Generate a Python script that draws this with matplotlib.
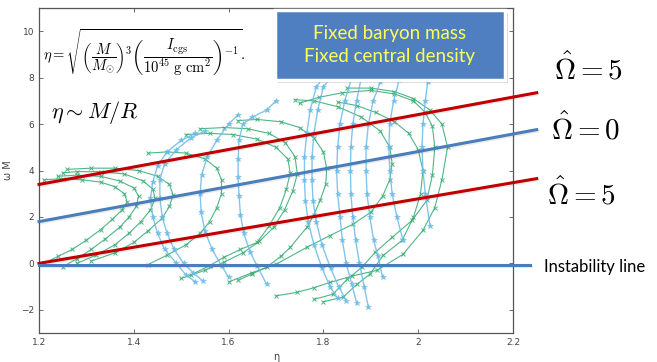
import numpy as np
import matplotlib.pyplot as plt
import matplotlib.patheffects as pe
from matplotlib.patches import Rectangle

plt.rcParams['mathtext.fontset'] = 'cm'

# fixed baryon mass sequences (eta, omega*M)
green_eta = [
    [1.21, 1.24, 1.27, 1.30, 1.33, 1.355, 1.375, 1.386, 1.38, 1.36, 1.33, 1.29, 1.25, 1.21],
    [1.25, 1.28, 1.31, 1.34, 1.37, 1.39, 1.405, 1.41, 1.40, 1.37, 1.33, 1.28, 1.24],
    [1.28, 1.32, 1.36, 1.39, 1.415, 1.435, 1.445, 1.44, 1.42, 1.38, 1.33, 1.28, 1.25],
    [1.31, 1.36, 1.40, 1.43, 1.46, 1.475, 1.483, 1.475, 1.45, 1.41, 1.36, 1.31, 1.26],
    [1.43, 1.47, 1.51, 1.54, 1.56, 1.575, 1.585, 1.585, 1.575, 1.55, 1.51, 1.47, 1.43],
    [1.52, 1.56, 1.59, 1.625, 1.66, 1.685, 1.708, 1.722, 1.73, 1.725, 1.70, 1.66, 1.61, 1.56, 1.51],
    [1.50, 1.55, 1.59, 1.63, 1.665, 1.695, 1.718, 1.735, 1.745, 1.74, 1.72, 1.685, 1.64, 1.59, 1.54],
    [1.62, 1.65, 1.68, 1.71, 1.73, 1.765, 1.78, 1.793, 1.805, 1.807, 1.80, 1.78, 1.75, 1.71, 1.66, 1.62],
    [1.60, 1.65, 1.70, 1.765, 1.814, 1.862, 1.90, 1.925, 1.94, 1.945, 1.94, 1.92, 1.88, 1.83, 1.78, 1.74],
    [1.78, 1.82, 1.85, 1.881, 1.909, 1.945, 1.987, 2.018, 2.03, 2.035, 2.03, 2.015, 1.99, 1.95, 1.90, 1.84, 1.79, 1.75],
    [1.70, 1.744, 1.78, 1.814, 1.86, 1.913, 1.968, 2.01, 2.035, 2.05, 2.062, 2.05, 2.025, 1.99, 1.95, 1.90, 1.85],
    [1.80, 1.841, 1.871, 1.898, 1.926, 1.966, 1.99, 2.005, 2.01, 2.0, 1.98, 1.95, 1.91, 1.87, 1.83],
]
green_wm = [
    [0.0, 0.3, 0.6, 1.0, 1.45, 1.9, 2.3, 2.65, 3.0, 3.3, 3.5, 3.6, 3.65, 3.6],
    [-0.15, 0.2, 0.6, 1.05, 1.55, 2.0, 2.45, 2.9, 3.25, 3.55, 3.75, 3.8, 3.75],
    [0.0, 0.35, 0.8, 1.3, 1.8, 2.3, 2.8, 3.2, 3.55, 3.85, 3.95, 3.95, 3.9],
    [0.1, 0.45, 0.9, 1.4, 1.95, 2.45, 2.95, 3.4, 3.75, 4.0, 4.1, 4.1, 4.05],
    [-0.05, 0.35, 0.8, 1.3, 1.8, 2.4, 3.0, 3.6, 4.1, 4.5, 4.75, 4.8, 4.75],
    [-0.5, -0.1, 0.26, 0.6, 0.9, 1.6, 2.4, 3.2, 3.9, 4.5, 5.0, 5.35, 5.55, 5.6, 5.55],
    [-0.65, -0.3, 0.05, 0.45, 0.95, 1.55, 2.3, 3.1, 3.85, 4.6, 5.2, 5.6, 5.8, 5.85, 5.8],
    [-0.73, -0.45, -0.17, 0.3, 0.69, 1.55, 2.1, 2.71, 3.4, 4.1, 4.8, 5.4, 5.85, 6.1, 6.2, 6.15],
    [-0.8, -0.4, -0.04, 0.69, 1.2, 1.68, 2.2, 2.9, 3.6, 4.3, 5.0, 5.7, 6.3, 6.75, 7.0, 7.05],
    [-1.55, -1.33, -0.69, -0.17, 0.47, 1.12, 1.85, 2.71, 3.8, 5.0, 5.9, 6.5, 7.0, 7.3, 7.45, 7.35, 7.15, 6.9],
    [-1.4, -1.25, -1.05, -0.82, -0.55, -0.3, 0.39, 1.42, 2.4, 3.6, 5.0, 6.0, 6.6, 7.1, 7.4, 7.55, 7.55],
    [-1.65, -1.46, -0.9, -0.47, 0.34, 0.99, 1.98, 3.0, 4.0, 4.9, 5.6, 6.1, 6.5, 6.8, 6.95],
]

# fixed central density sequences
blue_eta = [
    [1.53, 1.50, 1.47, 1.45, 1.44, 1.435, 1.44, 1.45, 1.465, 1.49, 1.51, 1.53],
    [1.55, 1.52, 1.49, 1.465, 1.455, 1.455, 1.46, 1.47, 1.485, 1.505, 1.525, 1.545],
    [1.62, 1.60, 1.575, 1.555, 1.543, 1.54, 1.542, 1.55, 1.565, 1.585, 1.60],
    [1.70, 1.68, 1.65, 1.63, 1.622, 1.62, 1.62, 1.622, 1.625, 1.632, 1.645, 1.66, 1.68],
    [1.80, 1.785, 1.772, 1.765, 1.76, 1.76, 1.762, 1.768, 1.78, 1.797, 1.814, 1.83],
    [1.815, 1.80, 1.788, 1.78, 1.776, 1.776, 1.778, 1.785, 1.797, 1.815, 1.832, 1.848],
    [1.86, 1.845, 1.835, 1.83, 1.828, 1.83, 1.835, 1.84, 1.848, 1.86, 1.87],
    [1.88, 1.87, 1.862, 1.858, 1.857, 1.858, 1.862, 1.868, 1.876, 1.886, 1.895],
    [1.92, 1.905, 1.895, 1.89, 1.89, 1.892, 1.898, 1.906, 1.915, 1.925],
    [1.96, 1.948, 1.94, 1.938, 1.94, 1.945, 1.955, 1.968],
    [2.02, 2.015, 2.01, 2.008, 2.01, 2.015, 2.025],
]
blue_wm = [
    [5.6, 5.3, 4.8, 4.2, 3.5, 2.8, 2.0, 1.3, 0.6, 0.0, -0.5, -0.8],
    [5.7, 5.4, 4.9, 4.3, 3.6, 2.8, 2.0, 1.3, 0.6, 0.0, -0.4, -0.75],
    [6.4, 6.0, 5.3, 4.6, 3.8, 3.0, 2.2, 1.4, 0.6, -0.1, -0.6],
    [7.0, 6.6, 6.3, 6.0, 5.3, 4.5, 3.7, 2.9, 2.1, 1.3, 0.5, -0.1, -0.9],
    [8.0, 7.6, 6.6, 5.6, 4.6, 3.6, 2.7, 1.8, 0.8, -0.2, -1.0, -1.5],
    [8.0, 7.6, 6.6, 5.6, 4.6, 3.6, 2.7, 1.8, 0.8, -0.2, -1.0, -1.6],
    [8.0, 7.0, 6.0, 5.0, 4.0, 3.0, 2.0, 1.0, 0.0, -0.9, -1.7],
    [8.0, 7.0, 6.0, 5.0, 4.0, 3.0, 2.0, 1.0, 0.0, -1.0, -1.9],
    [7.8, 7.0, 6.0, 5.0, 4.0, 3.0, 2.0, 1.0, 0.3, -0.6],
    [7.9, 7.0, 6.0, 5.0, 4.0, 3.0, 2.0, 1.0],
    [7.8, 7.0, 6.0, 5.0, 4.0, 3.0, 1.6],
]

# straight guide lines: end points
line_eta = [1.2, 2.25]
omega5_upper = [3.4, 7.35]
omega0 = [1.8, 5.76]
omega5_lower = [0.0, 3.65]
instab_eta = [1.2, 2.236]
instab_wm = [-0.05, -0.05]

fig = plt.figure(figsize=(6.57, 3.62), dpi=100)
ax = fig.add_axes([0.0594, 0.0801, 0.7214, 0.8978])

for xs, ys in zip(green_eta, green_wm):
    ax.plot(xs, ys, color='#3cae78', lw=0.8, marker='x', ms=3.2, mew=0.7, alpha=0.9)
for xs, ys in zip(blue_eta, blue_wm):
    ax.plot(xs, ys, color='#6cbbe8', lw=1.0, marker='*', ms=4.2, mew=0.4, alpha=0.85)

shadow = [pe.SimpleLineShadow(offset=(0.8, -1.0), alpha=0.08), pe.Normal()]
ax.plot(line_eta, omega5_upper, color='#c00000', lw=2.2, clip_on=False, path_effects=shadow, zorder=5)
ax.plot(line_eta, omega0, color='#4a7ebb', lw=2.2, clip_on=False, path_effects=shadow, zorder=5)
ax.plot(line_eta, omega5_lower, color='#c00000', lw=2.2, clip_on=False, path_effects=shadow, zorder=5)
ax.plot(instab_eta, instab_wm, color='#4a7ebb', lw=2.2, clip_on=False, path_effects=shadow, zorder=5)

ax.set_xlim(1.2, 2.2)
ax.set_ylim(-3, 11)
ax.set_xticks(np.arange(1.2, 2.21, 0.2))
ax.set_xticklabels(['1.2', '1.4', '1.6', '1.8', '2', '2.2'])
ax.set_yticks([-2, 0, 2, 4, 6, 8, 10])
ax.tick_params(direction='in', length=3, width=0.6, top=True, right=True,
               labelsize=6.5, labelcolor='#444444', color='#555555')
for s in ax.spines.values():
    s.set_color('#555555')
    s.set_linewidth(0.9)
ax.set_ylabel('ω M', fontsize=7, color='#444444', labelpad=6)
ax.set_xlabel('η', fontsize=7, color='#444444', labelpad=4)

# formulas
fig.text(0.066, 0.856,
         r'$\eta = \sqrt{\left(\dfrac{M}{M_{\odot}}\right)^{3}\left(\dfrac{I_{\mathrm{cgs}}}{10^{45}\ \mathrm{g\ cm}^{2}}\right)^{-1}}.$',
         fontsize=10.5, va='center', ha='left')
fig.text(0.078, 0.69, r'$\eta \sim M/R$', fontsize=16, va='center', ha='left')

fig.text(0.843, 0.81, r'$\hat{\Omega} = 5$', fontsize=21, va='center', ha='left')
fig.text(0.838, 0.645, r'$\hat{\Omega} = 0$', fontsize=21, va='center', ha='left')
fig.text(0.832, 0.465, r'$\hat{\Omega} = 5$', fontsize=21, va='center', ha='left')
fig.text(0.828, 0.262, 'Instability line', fontsize=12, family='Lato', va='center', ha='left')

# title box
box = Rectangle((0.4186, 0.779), 0.35, 0.193, transform=fig.transFigure,
                facecolor='#4f7fc0', edgecolor='white', lw=2.5, zorder=10,
                path_effects=[pe.SimplePatchShadow(offset=(2, -2), alpha=0.2), pe.Normal()])
fig.patches.append(box)
fig.text(0.5936, 0.875, 'Fixed baryon mass\nFixed central density', fontsize=13.5,
         family='Lato', color='#ffff55', ha='center', va='center', linespacing=1.45, zorder=11)

fig.savefig('out.png', dpi=100)
